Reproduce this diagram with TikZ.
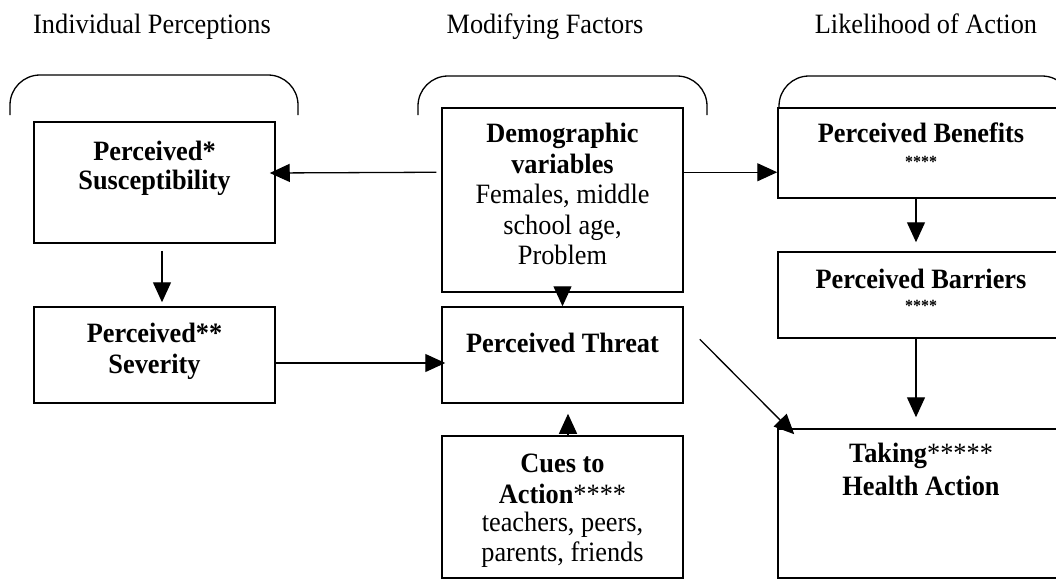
\documentclass[tikz,border=0pt]{standalone}
\usepackage{fontspec}
\setmainfont{Liberation Serif}[FakeStretch=0.94]
\usetikzlibrary{arrows.meta,calc}
\begin{document}
\begin{tikzpicture}[x=1pt,y=-1pt,
  box/.style={draw,line width=1.5pt,inner sep=0pt},
  conn/.style={line width=1.3pt,-{Triangle[length=20pt,width=18pt]}},
  txt/.style={align=center,inner sep=0pt,anchor=north,font=\fontsize{28}{30.5}\selectfont},
  head/.style={inner sep=0pt,anchor=base,font=\fontsize{28}{30}\selectfont},
  bracket/.style={line width=1.3pt,rounded corners=30pt}]
\useasboundingbox (0,0) rectangle (1056,581);
\clip (0,0) rectangle (1056,581);
% column headings
\node[head] (h1) at (152,33) {Individual Perceptions};
\node[head] (h2) at (545,33) {Modifying Factors};
\node[head] (h3) at (926,33) {Likelihood of Action};
% brackets
\draw[bracket] (10,115) -- (10,75) -- (298,75) -- (298,115);
\draw[bracket] (418,115) -- (418,76) -- (707,76) -- (707,115);
\draw[bracket] (779,108) -- (779,76) -- (1072,76) -- (1072,108);
% boxes
\node[box,minimum width=241pt,minimum height=121pt] (sus) at (154.5,182.5) {};
\node[box,minimum width=241pt,minimum height=96pt] (sev) at (154.5,355) {};
\node[box,minimum width=241pt,minimum height=184pt] (demo) at (562.5,200) {};
\node[box,minimum width=241pt,minimum height=96pt] (threat) at (562.5,355) {};
\node[box,minimum width=241pt,minimum height=142pt] (cues) at (562.5,507) {};
\node[box,minimum width=288pt,minimum height=90pt] (ben) at (922,153) {};
\node[box,minimum width=288pt,minimum height=86pt] (bar) at (922,295) {};
\node[box,minimum width=288pt,minimum height=149pt] (take) at (922,503.5) {};
% texts
\node[txt] (sust) at (154.5,139) {\strut\textbf{Perceived*}\\[-2pt]\textbf{Susceptibility}};
\node[txt] (sevt) at (154.5,321) {\strut\textbf{Perceived**}\\\textbf{Severity}};
\node[txt] (demot) at (562.5,121) {\strut\textbf{Demographic}\\\textbf{variables}\\Females, middle\\school age,\\Problem};
\node[txt] (threatt) at (562.5,331) {\strut\textbf{Perceived Threat}};
\node[txt] (cuest) at (562.5,451) {\strut\textbf{Cues to}\\\textbf{Action}****\\[-2pt]teachers, peers,\\[-1pt]parents, friends};
\node[txt] (bent) at (921,121) {\strut\textbf{Perceived Benefits}\\[-6pt]{\fontsize{17}{20}\selectfont\textbf{****}}};
\node[txt] (bart) at (921,267) {\strut\textbf{Perceived Barriers}\\[-8pt]{\fontsize{17}{20}\selectfont\textbf{****}}};
\node[txt] (taket) at (921,441) {\strut\textbf{Taking}*****\\[2pt]\textbf{Health Action}};
% connectors
\draw[conn] ($(demo.north west)+(-5,65)$) -- ($(sus.east)+(-6,-9.5)$);
\draw[conn] ($(demo.north east)+(0,65)$) -- ($(ben.north west)+(0,65)$);
\draw[conn] (demo.south) -- (threat.north);
\draw[conn] ($(sus.south)+(7.5,7)$) -- ($(sev.north)+(7.5,-4)$);
\draw[conn] ($(sev.east)+(0,8)$) -- ($(threat.west)+(4,8)$);
\draw[conn] ($(cues.north)+(5.5,0)$) -- ($(threat.south)+(5.5,10)$);
\draw[conn] ($(ben.south)+(-6,0)$) -- ($(bar.north)+(-6,-9)$);
\draw[conn] ($(bar.south)+(-6,0)$) -- ($(take.north)+(-6,-11)$);
\draw[conn] ($(threat.north east)+(16,33)$) -- ($(take.north west)+(17,6)$);
\end{tikzpicture}
\end{document}
